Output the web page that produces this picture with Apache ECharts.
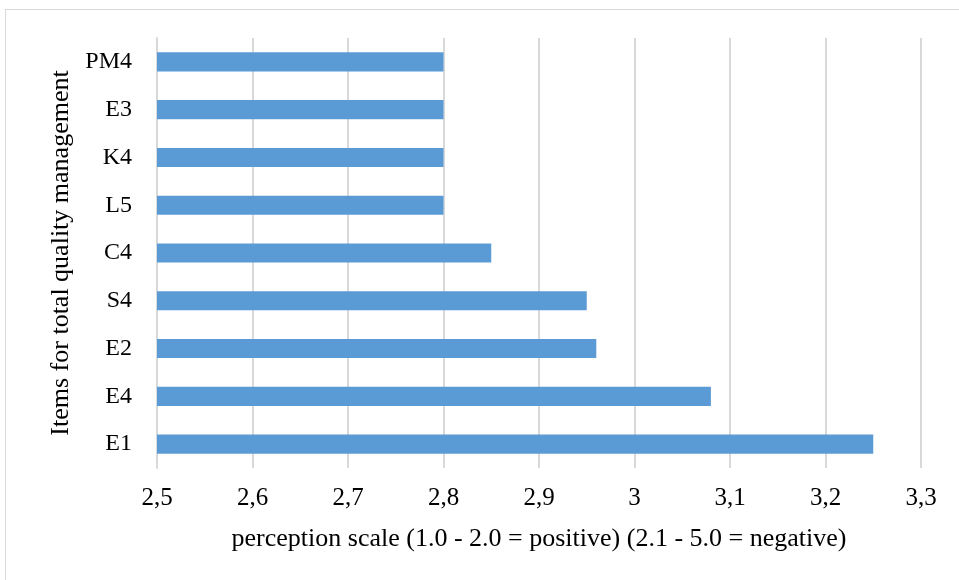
<!DOCTYPE html>
<html>
<head>
<meta charset="utf-8">
<script src="https://cdn.jsdelivr.net/npm/echarts@6/dist/echarts.min.js"></script>
<style>
  html, body { margin: 0; padding: 0; background: #fff; }
  #frame { position: absolute; left: 5px; top: 9px; width: 960px; height: 580px; border: 1px solid #d9d9d9; box-sizing: border-box; }
  #chart { position: absolute; left: 0; top: 0; width: 959px; height: 580px; }
</style>
</head>
<body>
<div id="frame"></div>
<div id="chart"></div>
<script>
// TQM items, listed bottom to top
const categories = ['E1', 'E4', 'E2', 'S4', 'C4', 'L5', 'K4', 'E3', 'PM4'];
const scores = [3.25, 3.08, 2.96, 2.95, 2.85, 2.8, 2.8, 2.8, 2.8];
const xMin = 2.5, xMax = 3.3, xStep = 0.1;

const serif = '"Liberation Serif", "Times New Roman", serif';
const chart = echarts.init(document.getElementById('chart'), null, { renderer: 'canvas' });
chart.setOption({
  animation: false,
  grid: { left: 157, right: 38, top: 38, bottom: 112, containLabel: false },
  xAxis: {
    type: 'value',
    min: xMin, max: xMax, interval: xStep,
    name: 'perception scale (1.0 - 2.0 = positive) (2.1 - 5.0 = negative)',
    nameLocation: 'middle', nameGap: 58,
    nameTextStyle: { fontFamily: serif, fontSize: 26, color: '#000' },
    axisLine: { show: false },
    axisTick: { show: false },
    axisLabel: {
      fontFamily: serif, fontSize: 25, color: '#000', margin: 18,
      formatter: v => (Math.round(v * 10) / 10).toString().replace('.', ',')
    },
    splitLine: { show: true, lineStyle: { color: '#d9d9d9', width: 2 } }
  },
  yAxis: {
    type: 'category',
    data: categories,
    name: 'Items for total quality management',
    nameLocation: 'middle', nameGap: 80, nameRotate: 90,
    nameTextStyle: { fontFamily: serif, fontSize: 26, color: '#000' },
    axisLine: { show: true, lineStyle: { color: '#d9d9d9', width: 2 } },
    axisTick: { show: false },
    axisLabel: { fontFamily: serif, fontSize: 24, color: '#000', margin: 25 }
  },
  series: [{
    type: 'bar',
    data: scores,
    barWidth: '40%',
    itemStyle: { color: '#5b9bd5' }
  }]
});
</script>
</body>
</html>
